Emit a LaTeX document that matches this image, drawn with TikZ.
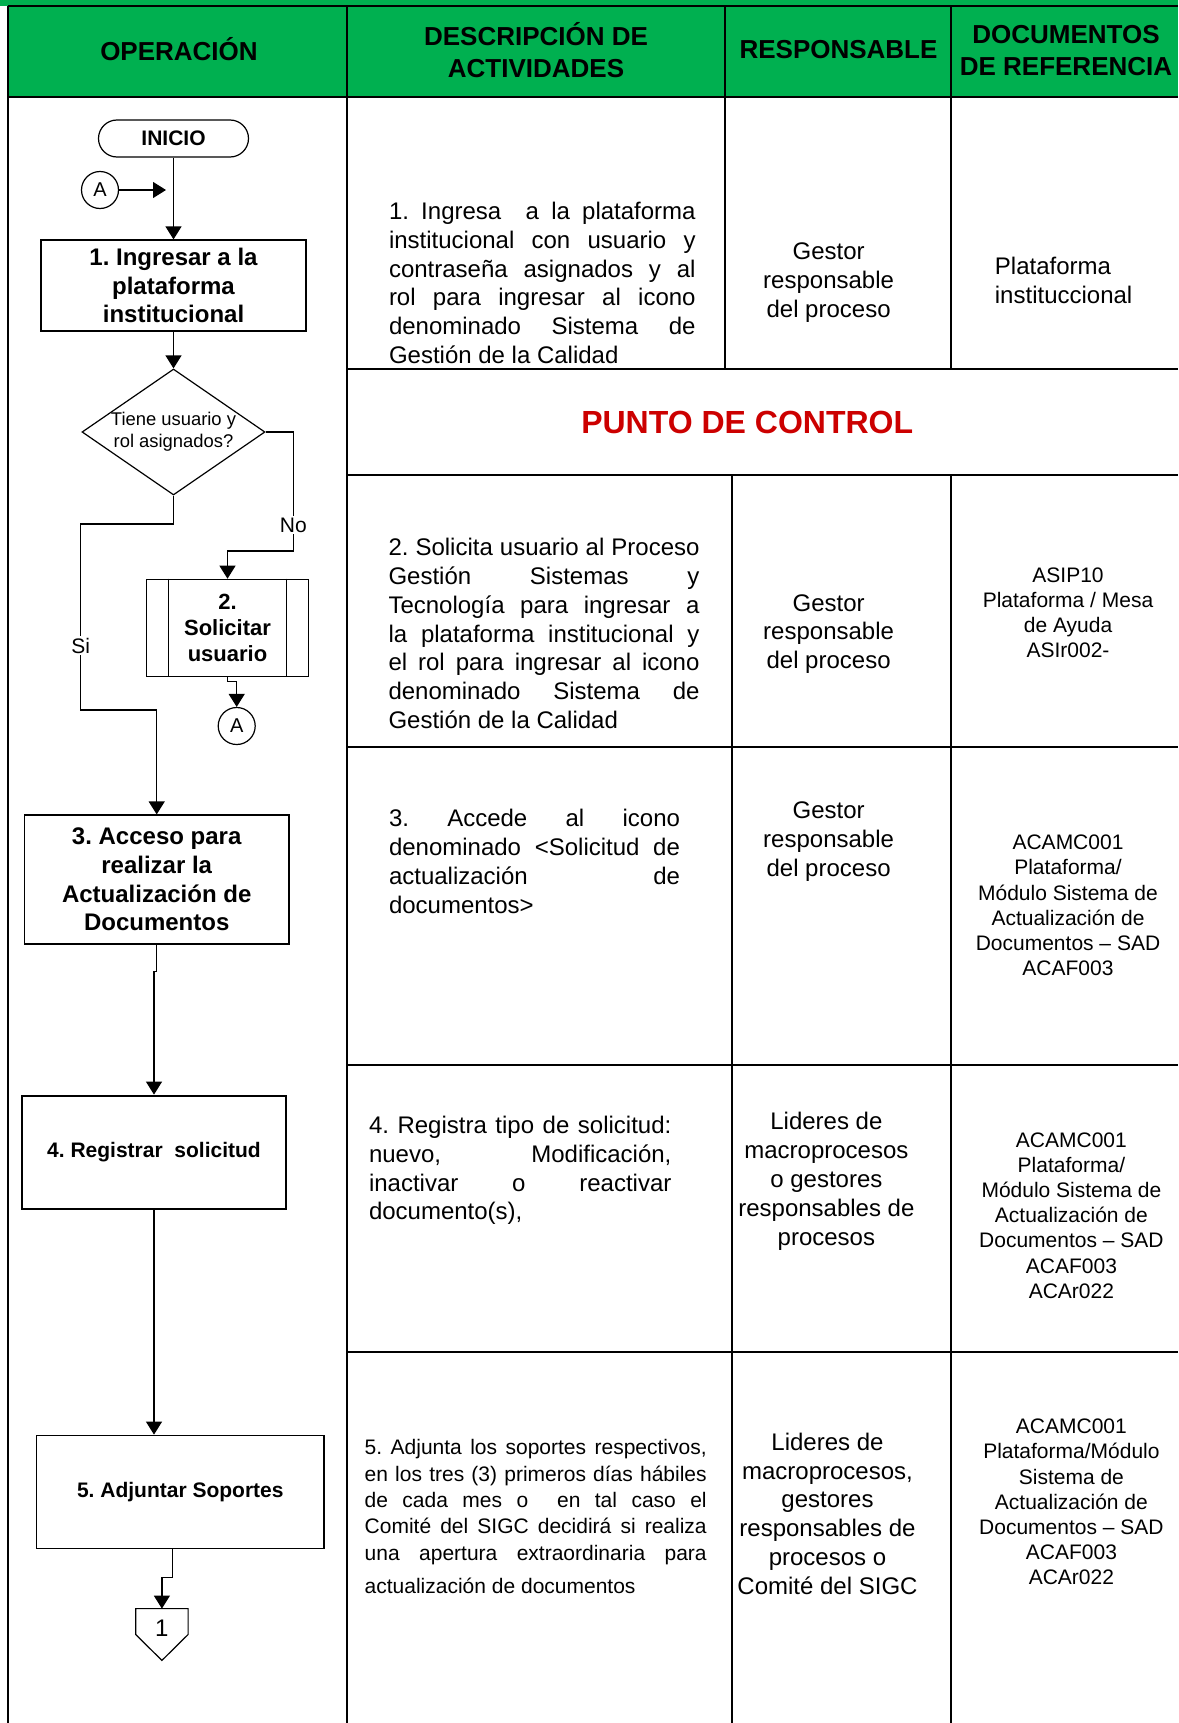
\documentclass[tikz,border=0pt]{standalone}
\usepackage{fontspec}
\setmainfont{Liberation Sans}
\usepackage{tikz}
\usetikzlibrary{shapes.geometric, arrows.meta}
\definecolor{verdeenc}{RGB}{0,176,80}
\definecolor{rojoctrl}{RGB}{204,0,0}
\newcommand{\tamano}[2]{\fontsize{#1}{#2}\selectfont}
\frenchspacing
\hyphenpenalty=10000
\tolerance=10000
\hbadness=10000

\begin{document}
\begin{tikzpicture}[x=0.5pt, y=-0.5pt,
    every node/.style={font=\tamano{12}{14.4}},
    caja/.style={draw, line width=0.6pt, align=center, inner sep=2pt, font=\bfseries\tamano{12}{14.4}},
    conector/.style={draw, circle, line width=0.6pt, minimum size=18.5pt, inner sep=0pt, font=\tamano{10}{12}},
    flecha/.style={line width=0.6pt, -{Triangle[length=6.5pt, width=8pt]}},
    rejilla/.style={line width=1pt},
    etiqueta/.style={fill=white, inner sep=1pt, font=\tamano{10.5}{12}},
    encab/.style={font=\bfseries\tamano{13}{16}, align=center, inner sep=0pt},
    desc/.style={inner sep=0pt, align=justify},
    resp/.style={inner sep=0pt, align=center},
    refdoc/.style={inner sep=0pt, align=center, font=\tamano{10.5}{12.6}}]
  \useasboundingbox (0,0) rectangle (1178,1723);

  % Encabezado de la tabla
  \fill[verdeenc] (0,0) rectangle (1178,6.5);
  \fill[verdeenc] (8,6.5) rectangle (1178,97);
  \draw[rejilla] (8,6.5) -- (1178,6.5);
  \draw[rejilla] (8,97) -- (1178,97);
  \node[encab] (hOper) at (179,49.5) {OPERACIÓN};
  \node[encab] (hDesc) at (536,50.5) {DESCRIPCIÓN DE\\ACTIVIDADES};
  \node[encab] (hResp) at (838.5,49.5) {RESPONSABLE};
  \node[encab] (hDocs) at (1066,50.5) {DOCUMENTOS\\DE REFERENCIA};

  % Rejilla
  \draw[rejilla] (8,6.5) -- (8,1723);
  \draw[rejilla] (347,6.5) -- (347,1723);
  \draw[rejilla] (725,6.5) -- (725,369);
  \draw[rejilla] (732,475) -- (732,1723);
  \draw[rejilla] (951,6.5) -- (951,369);
  \draw[rejilla] (951,475) -- (951,1723);
  \foreach \y in {369,475,747,1065,1352}
    \draw[rejilla] (347,\y) -- (1178,\y);

  % Diagrama de flujo
  \node[draw, line width=0.6pt, rounded corners=9.25pt, minimum width=75pt, minimum height=18.5pt,
    inner sep=0pt, font=\bfseries\tamano{10.5}{12}] (inicio) at (173.5,138.5) {INICIO};
  \node[conector] (conA1) at (100,190) {A};
  \coordinate (llegaA) at (166,190);
  \node[caja, minimum width=132.5pt, minimum height=45.5pt] (paso1) at (173.5,285.5)
    {1. Ingresar a la\\plataforma\\institucional};
  \node[draw, diamond, line width=0.6pt, minimum width=91.5pt, minimum height=63pt, inner sep=0pt,
    label={[align=center, font=\tamano{9.2}{11}]center:Tiene usuario y\\rol asignados?}] (dec) at (173.5,432) {};
  \node[caja, font=\bfseries\tamano{11}{12.9}, minimum width=80.8pt, minimum height=48.7pt] (paso2)
    at (227.5,628) {2.\\Solicitar\\usuario};
  \draw[line width=0.6pt] ([xshift=11.1pt]paso2.north west) -- ([xshift=11.1pt]paso2.south west);
  \draw[line width=0.6pt] ([xshift=-11.1pt]paso2.north east) -- ([xshift=-11.1pt]paso2.south east);
  \node[conector] (conA2) at (236.7,726) {A};
  \node[caja, minimum width=132.3pt, minimum height=64.5pt] (paso3) at (156.7,879.5)
    {3. Acceso para\\realizar la\\Actualización de\\Documentos};
  \node[caja, line width=1.1pt, font=\bfseries\tamano{10.5}{12.6}, minimum width=132pt, minimum height=56.5pt]
    (paso4) at (154,1152.2) {4. Registrar~~solicitud};
  \node[caja, font=\bfseries\tamano{10.5}{12.6}, minimum width=143.7pt, minimum height=56.8pt]
    (paso5) at (180.3,1492) {5. Adjuntar Soportes};
  \node[inner sep=0pt, minimum width=25.8pt, minimum height=25.5pt] (pag1) at (161.9,1634.5) {};
  \draw[line width=0.6pt] (pag1.north west) -- (pag1.north east) -- (pag1.east) -- (pag1.south)
    -- (pag1.west) -- cycle;
  \node (num1) at (161.9,1628) {1};

  \draw[flecha] (inicio.south) -- (paso1.north);
  \draw[flecha] (conA1) -- (llegaA);
  \draw[flecha] (paso1.south) -- (dec.north);
  \draw[flecha] (dec.east) -| (293.3,551) -| (paso2.north);
  \node[etiqueta] (etNo) at (293.3,525) {No};
  \draw[flecha] (dec.south) |- (80.7,524) |- (156.7,710) -- (paso3.north);
  \node[etiqueta] (etSi) at (80.7,645.7) {Si};
  \draw[flecha] (paso2.south) -- ++(0,4.5) -| (conA2.north);
  \draw[flecha] (paso3.south) -- ++(0,27) -| (paso4.north);
  \draw[flecha] (paso4.south) -- (paso4.south |- paso5.north);
  \draw[flecha] ([xshift=-3.8pt]paso5.south) -- ++(0,28) -| (pag1.north);

  % Descripcion de actividades
  \node[desc, text width=153.3pt] (d1) at (542.3,283)
    {1. Ingresa~ a la plataforma\linebreak institucional con usuario y\linebreak contraseña asignados y al\linebreak
     rol para ingresar al icono\linebreak denominado Sistema de\linebreak Gestión de la Calidad};
  \node[font=\bfseries\tamano{16}{19}, text=rojoctrl] (control) at (747.2,422) {PUNTO DE CONTROL};
  \node[desc, text width=155.5pt] (d2) at (544,633.5)
    {2. Solicita usuario al Proceso\linebreak Gestión Sistemas y\linebreak Tecnología para ingresar a\linebreak
     la plataforma institucional y\linebreak el rol para ingresar al icono\linebreak denominado Sistema de\linebreak
     Gestión de la Calidad};
  \node[desc, text width=145.5pt] (d3) at (534.5,861.5)
    {3. Accede al icono\linebreak denominado <Solicitud de\linebreak actualización de\linebreak documentos>};
  \node[desc, text width=151.2pt] (d4) at (520.2,1170.4)
    {4. Registra tipo de solicitud:\linebreak nuevo, Modificación,\linebreak inactivar o reactivar\linebreak documento(s),};
  \node[desc, text width=171pt, font=\tamano{10.5}{13.2}] (d5) at (535.7,1516.5)
    {5. Adjunta los soportes respectivos,\linebreak en los tres (3) primeros días hábiles\linebreak
     de cada mes o~ en tal caso el\linebreak Comité del SIGC decidirá si realiza\linebreak
     una apertura extraordinaria para\vspace{3.3pt}\linebreak actualización de documentos};

  % Responsable
  \node[resp] (r1) at (828.6,282.4) {Gestor\\responsable\\del proceso};
  \node[resp] (r2) at (828.6,634) {Gestor\\responsable\\del proceso};
  \node[resp] (r3) at (828.6,841.8) {Gestor\\responsable\\del proceso};
  \node[resp] (r4) at (826.4,1181.3) {Lideres de\\macroprocesos\\o gestores\\responsables de\\procesos};
  \node[resp] (r5) at (827.5,1513.7)
    {Lideres de\\macroprocesos,\\gestores\\responsables de\\procesos o\\Comité del SIGC};

  % Documentos de referencia
  \node[inner sep=0pt, align=left, anchor=west] (f1) at (994.5,280.2) {Plataforma\\instituccional};
  \node[refdoc] (f2) at (1068,612.6) {ASIP10\\Plataforma / Mesa\\de Ayuda\\ASIr002-};
  \node[refdoc] (f3) at (1068,905.5)
    {ACAMC001\\Plataforma/\\Módulo Sistema de\\Actualización de\\Documentos -- SAD\\ACAF003};
  \node[refdoc] (f4) at (1071.4,1215.4)
    {ACAMC001\\Plataforma/\\Módulo Sistema de\\Actualización de\\Documentos -- SAD\\ACAF003\\ACAr022};
  \node[refdoc] (f5) at (1071.4,1502)
    {ACAMC001\\Plataforma/Módulo\\Sistema de\\Actualización de\\Documentos -- SAD\\ACAF003\\ACAr022};
\end{tikzpicture}
\end{document}
